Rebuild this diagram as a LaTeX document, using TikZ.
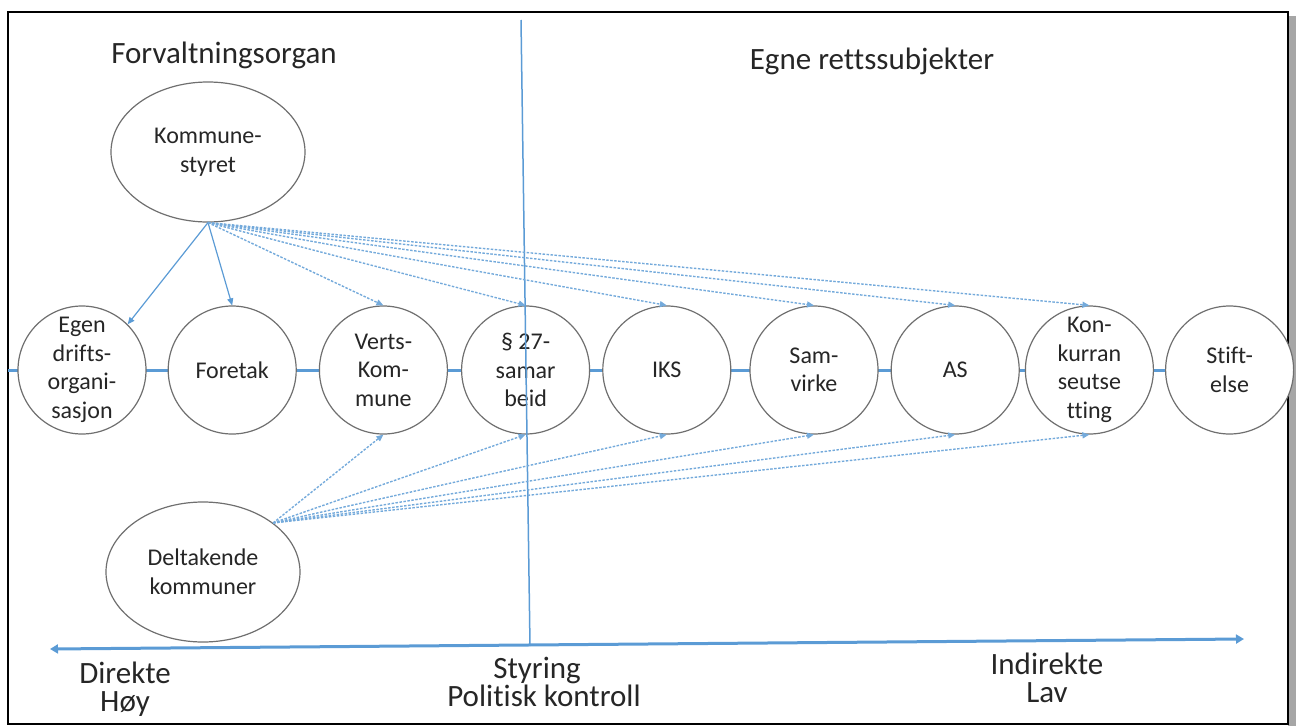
\documentclass[tikz,border=0pt]{standalone}
\usepackage{fontspec}
\setmainfont{Carlito}[Ligatures=CommonOff]
\usetikzlibrary{arrows.meta, positioning, shapes.geometric}

\definecolor{linjeblaa}{HTML}{5B9BD5}
\definecolor{ringgraa}{HTML}{6F6F6F}

\begin{document}
\begin{tikzpicture}[x=1pt, y=-1pt,
   form/.style = {circle, draw=ringgraa, line width=1.2pt, fill=white, minimum size=128pt,
      inner sep=0pt, align=center, text=black!85, font=\fontsize{24}{28.5}\selectfont},
   organ/.style = {ellipse, draw=ringgraa, line width=1.2pt, fill=white, minimum width=194pt,
      minimum height=140pt, inner sep=0pt, align=center, text=black!85, font=\fontsize{24}{29}\selectfont},
   tittel/.style = {anchor=base, text=black!85, font=\fontsize{31}{37}\selectfont},
   pol/.style = {inner sep=0pt, align=center, text=black!85, font=\fontsize{31}{28.5}\selectfont},
   direkte/.style = {linjeblaa, line width=1.2pt, -{Triangle[length=7pt, width=6pt]}},
   indirekte/.style = {linjeblaa!85, line width=1.4pt, dash pattern=on 2.5pt off 1.5pt,
      -{Triangle[length=7pt, width=6pt]}}]
   \useasboundingbox (0,0) rectangle (1296,726);

   % ramme
   \fill[black!35] (1288,16) rectangle (1296,726);
   \draw[line width=1.6pt] (8,12) rectangle (1288,724);

   % linja gjennom formene
   \coordinate (radV) at (8,370);
   \coordinate (radH) at (1288,370);
   \draw[linjeblaa, line width=3pt, -{Triangle[length=6pt, width=8pt]}] (radV) -- (radH);

   \node[form] (egen) at (82,370) {Egen\\drifts-\\organi-\\sasjon};
   \node[form, right=21pt of egen] (foretak) {Foretak};
   \node[form, right=22pt of foretak] (verts) {Verts-\\Kom-\\mune};
   \node[form, right=13pt of verts] (s27) {§ 27-\\samar\\beid};
   \node[form, right=12pt of s27] (iks) {IKS};
   \node[form, right=18pt of iks] (samvirke) {Sam-\\virke};
   \node[form, right=12pt of samvirke] (aksje) {AS};
   \node[form, right=5pt of aksje] (konk) {Kon-\\kurran\\seutse\\tting};
   \node[form, right=11pt of konk] (stift) {Stift-\\else};

   \node[organ] (styret) at (208,152) {Kommune-\\styret};
   \node[organ] (deltak) at (203,572) {Deltakende\\kommuner};

   % skillelinje
   \coordinate (skilleTopp) at (521,20);
   \coordinate (skilleBunn) at (530,646);
   \draw[linjeblaa, line width=1.5pt] (skilleTopp) -- (skilleBunn);

   \draw (styret.south) edge[direkte] (egen.north east)
                        edge[direkte] (foretak.north);
   \draw (styret.south) edge[indirekte] (verts.north)
                        edge[indirekte] (s27.north)
                        edge[indirekte] (iks.north)
                        edge[indirekte] (samvirke.north)
                        edge[indirekte] (aksje.north)
                        edge[indirekte] (konk.north);
   \draw (deltak.35) edge[indirekte] (verts.south)
                     edge[indirekte] (s27.south)
                     edge[indirekte] (iks.south)
                     edge[indirekte] (samvirke.south)
                     edge[indirekte] (aksje.south)
                     edge[indirekte] (konk.south);

   % styringsaksen
   \coordinate (aksV) at (50,649);
   \coordinate (aksH) at (1244,639);
   \draw[linjeblaa, line width=3pt, {Triangle[length=8pt, width=9pt]}-{Triangle[length=8pt, width=9pt]}]
      (aksV) -- (aksH);

   \node[tittel] (forvaltning) at (224,63) {Forvaltningsorgan};
   \node[tittel] (egne) at (872,69) {Egne rettssubjekter};
   \node[pol] (lDirekte) at (125,689) {Direkte\\Høy};
   \node[tittel] (lStyring) at (537,678) {Styring};
   \node[tittel] (lPolitisk) at (544,706) {Politisk kontroll};
   \node[pol] (lIndirekte) at (1047,678) {Indirekte\\Lav};
\end{tikzpicture}
\end{document}
